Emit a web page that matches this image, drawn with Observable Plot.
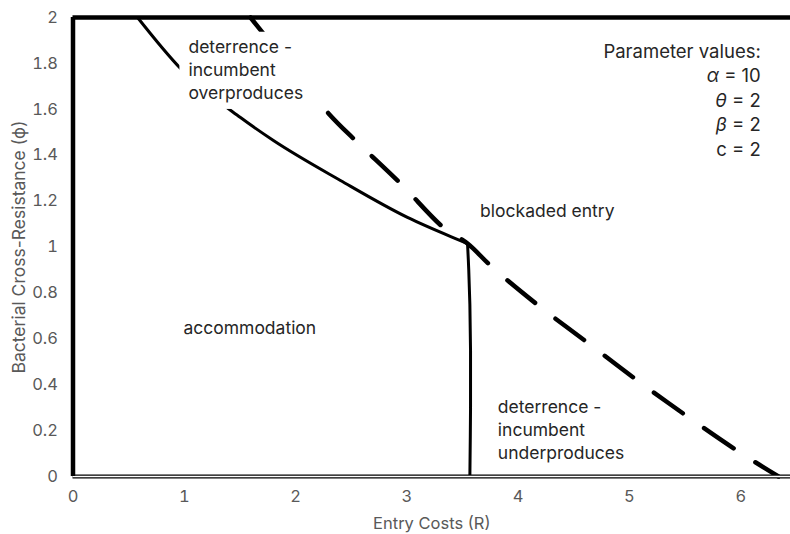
<!DOCTYPE html>
<html><head><meta charset="utf-8">
<script src="https://cdn.jsdelivr.net/npm/d3@7"></script>
<script src="https://cdn.jsdelivr.net/npm/@observablehq/plot@0.6"></script>
<style>body{margin:0;background:#fff}#chart{width:790px;height:534px}</style>
</head><body><div id="chart"></div>
<script>
const xTitle = "Entry Costs (R)";
const yTitle = "Bacterial Cross-Resistance (ϕ)";
const xTicks = [0, 1, 2, 3, 4, 5, 6];
const yTicks = [0, 0.2, 0.4, 0.6, 0.8, 1, 1.2, 1.4, 1.6, 1.8, 2];

// solid boundary: deterrence (incumbent overproduces) vs accommodation
const upperR   = [0.580, 0.966, 1.505, 1.801, 2.403, 3.005, 3.481, 3.545];
const upperPhi = [2.000, 1.778, 1.564, 1.464, 1.290, 1.129, 1.028, 1.015];
// solid boundary: accommodation vs deterrence (incumbent underproduces)
const vertR   = [3.545, 3.556, 3.566, 3.572, 3.572, 3.566];
const vertPhi = [1.015, 0.900, 0.750, 0.550, 0.300, 0.000];
// dashed boundary: blockaded entry
const blockR   = [1.595, 1.702, 2.296, 2.538, 2.942, 3.328, 3.545, 3.769, 4.182, 4.632, 5.072, 5.522, 5.979, 6.339];
const blockPhi = [2.000, 1.935, 1.582, 1.464, 1.277, 1.085, 1.015, 0.911, 0.745, 0.580, 0.418, 0.261, 0.109, 0.000];

const labelText = ["deterrence -\nincumbent\noverproduces", "blockaded entry", "accommodation", "deterrence -\nincumbent\nunderproduces"];
const labelR   = [1.037, 3.658, 0.992, 3.817];
const labelPhi = [1.778, 1.163, 0.654, 0.207];

const paramText = ["Parameter values:\nα = 10\nθ = 2\nβ = 2\nc = 2"];
const paramR = [6.18];
const paramPhi = [1.645];

const toPts = (xs, ys) => xs.map((x, i) => ({x, y: ys[i]}));
const upper = toPts(upperR, upperPhi);
const vert = toPts(vertR, vertPhi);
const block = toPts(blockR, blockPhi);
const labels = labelText.map((t, i) => ({t, x: labelR[i], y: labelPhi[i]}));
const params = paramText.map((t, i) => ({t, x: paramR[i], y: paramPhi[i]}));

const FONT = "Inter, 'Liberation Sans', sans-serif";

const plot = Plot.plot({
  width: 790,
  height: 534,
  marginLeft: 72.5,
  marginRight: 0,
  marginTop: 17,
  marginBottom: 58,
  style: {fontFamily: FONT, fontSize: "16.5px", color: "#595959", background: "#fff"},
  x: {domain: [0, 6.447], ticks: xTicks, tickSize: 0, tickPadding: 14, label: null, tickFormat: d3.format("~g")},
  y: {domain: [0, 2], ticks: yTicks, tickSize: 0, tickPadding: 15, label: null, tickFormat: d3.format("~g")},
  marks: [
    Plot.line(upper, {x: "x", y: "y", stroke: "black", strokeWidth: 3, curve: "monotone-x"}),
    Plot.line(vert, {x: "x", y: "y", stroke: "black", strokeWidth: 3, curve: "catmull-rom"}),
    Plot.line(block, {x: "x", y: "y", stroke: "black", strokeWidth: 4.5, strokeDasharray: "35.5,26", strokeLinecap: "round", curve: "catmull-rom"}),
    Plot.ruleY([0], {stroke: "black", strokeWidth: 4}),
    Plot.ruleY([0], {stroke: "white", strokeWidth: 1.4}),
    Plot.ruleX([0], {stroke: "black", strokeWidth: 4.5}),
    Plot.ruleY([2], {stroke: "black", strokeWidth: 4.5}),
    Plot.text(labels, {x: "x", y: "y", text: "t", textAnchor: "start", lineAnchor: "middle", fontSize: 17.5, lineHeight: 1.32, fill: "#262626", fontFamily: FONT}),
    Plot.text(params, {x: "x", y: "y", text: "t", textAnchor: "end", lineAnchor: "middle", fontSize: 18.5, lineHeight: 1.33, fill: "#262626", fontFamily: FONT}),
    Plot.text([xTitle], {frameAnchor: "bottom", dy: 47, textAnchor: "middle", lineAnchor: "middle", fontSize: 16.5, fill: "#595959", fontFamily: FONT}),
    Plot.text([yTitle], {frameAnchor: "left", dx: -54, rotate: -90, textAnchor: "middle", lineAnchor: "middle", fontSize: 17.5, fill: "#595959", fontFamily: FONT})
  ]
});
document.getElementById("chart").append(plot);

const NS = "http://www.w3.org/2000/svg";
// italic Greek parameter symbols
plot.querySelectorAll("text, tspan").forEach(el => {
  if (el.children.length) return;
  const m = /^([αθβ])(.*)$/.exec(el.textContent);
  if (!m) return;
  el.textContent = "";
  const it = document.createElementNS(NS, "tspan");
  it.setAttribute("font-style", "italic");
  it.textContent = m[1];
  el.append(it, m[2]);
});
// white text box behind the upper-left region label (as in the original)
const tEl = [...plot.querySelectorAll("text")].find(e => e.textContent.includes("overproduces"));
if (tEl) {
  const b = tEl.getBBox();
  const r = document.createElementNS(NS, "rect");
  r.setAttribute("x", b.x - 9);
  r.setAttribute("y", b.y - 4);
  r.setAttribute("width", b.width + 39);
  r.setAttribute("height", b.height + 10);
  r.setAttribute("fill", "white");
  const tr = tEl.getAttribute("transform");
  if (tr) r.setAttribute("transform", tr);
  tEl.parentNode.insertBefore(r, tEl);
}
</script>
</body></html>
